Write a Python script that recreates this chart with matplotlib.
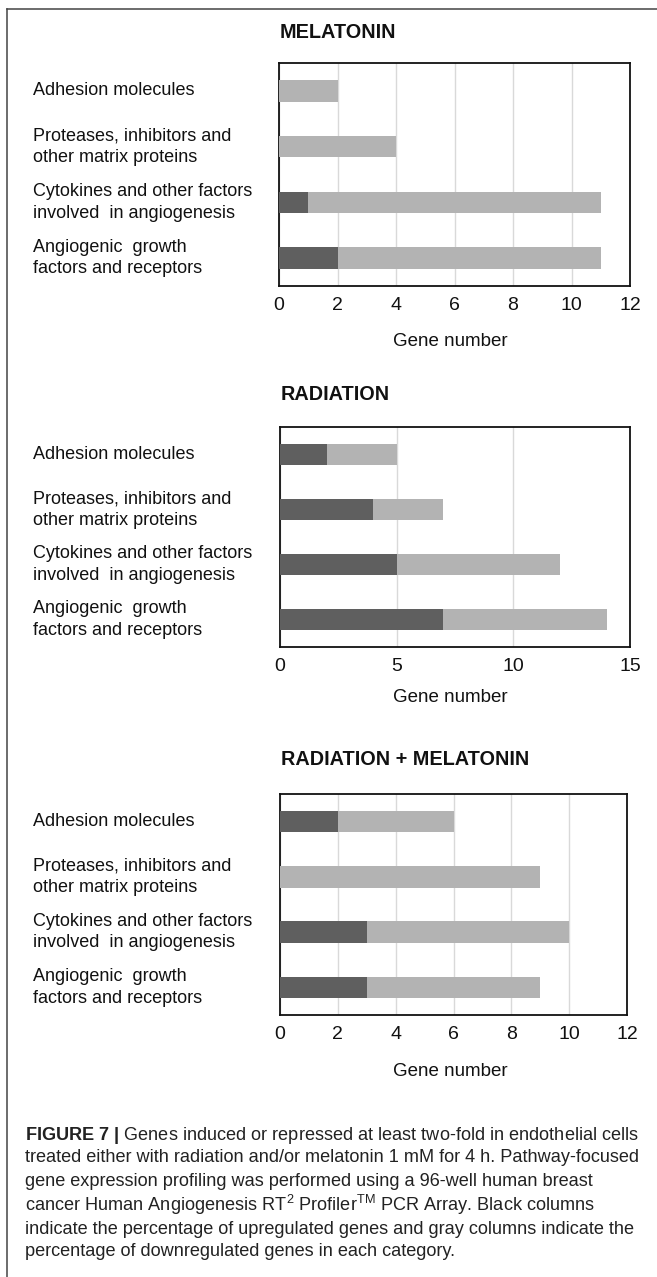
import matplotlib
matplotlib.use("Agg")
import matplotlib.pyplot as plt
from matplotlib.lines import Line2D
from matplotlib.transforms import blended_transform_factory

plt.rcParams['font.family'] = ['Liberation Sans', 'DejaVu Sans']
plt.rcParams['mathtext.fontset'] = 'custom'
plt.rcParams['mathtext.rm'] = 'Liberation Sans'
plt.rcParams['mathtext.bf'] = 'Liberation Sans:bold'
plt.rcParams['mathtext.it'] = 'Liberation Sans:italic'

# ---------------- data ----------------
categories = [
    "Adhesion molecules",
    "Proteases, inhibitors and\nother matrix proteins",
    "Cytokines and other factors\ninvolved  in angiogenesis",
    "Angiogenic  growth\nfactors and receptors",
]
panel_titles = ["MELATONIN", "RADIATION", "RADIATION + MELATONIN"]
# upregulated (dark) and downregulated (gray) gene numbers
melatonin_up = [0, 0, 1, 2]
melatonin_down = [2, 4, 10, 9]
radiation_up = [2, 4, 5, 7]
radiation_down = [3, 3, 7, 7]
combo_up = [2, 0, 3, 3]
combo_down = [4, 9, 7, 6]
x_maxes = [12, 15, 12]
x_steps = [2, 5, 2]
xlabel = "Gene number"

caption_lines = [
    r"$\mathbf{FIGURE\ 7\ |}$ Genes induced or repressed at least two-fold in endothelial cells",
    "treated either with radiation and/or melatonin 1 mM for 4 h. Pathway-focused",
    "gene expression profiling was performed using a 96-well human breast",
    r"cancer Human Angiogenesis RT$^{2}$ Profiler$^{\mathrm{TM}}$ PCR Array. Black columns",
    "indicate the percentage of upregulated genes and gray columns indicate the",
    "percentage of downregulated genes in each category.",
]

ups = [melatonin_up, radiation_up, combo_up]
downs = [melatonin_down, radiation_down, combo_down]

# ---------------- layout (pixels) ----------------
W, H = 657, 1277
DPI = 100
fig = plt.figure(figsize=(W / DPI, H / DPI), dpi=DPI)
fig.patch.set_facecolor("white")

def fx(px):
    return px / W

def fy(py):
    return 1 - py / H

# axes boxes: left, right, top, bottom in px
boxes = [(279, 630, 63, 286), (280, 630, 427, 647), (280, 627, 794, 1015)]
title_y = [33, 395, 760]
xlabel_y = [342, 698, 1072]

DARK = "#5f5f5f"
LIGHT = "#b3b3b3"
GRID = "#d9d9d9"
TXT = "#111111"

for i in range(3):
    l, r, t, b = boxes[i]
    ax = fig.add_axes([fx(l), fy(b), (r - l) / W, (b - t) / H])
    ypos = list(range(len(categories)))
    ax.barh(ypos, ups[i], height=0.39, color=DARK, zorder=3)
    ax.barh(ypos, downs[i], left=ups[i], height=0.39, color=LIGHT, zorder=3)
    ax.set_ylim(3.5, -0.5)
    ax.set_xlim(0, x_maxes[i])
    ax.set_xticks(range(0, x_maxes[i] + 1, x_steps[i]))
    ax.set_yticks([])
    ax.tick_params(axis='x', length=0, pad=8, labelsize=14, labelcolor=TXT)
    ax.grid(axis='x', color=GRID, lw=1.0, zorder=0)
    ax.set_axisbelow(True)
    for s in ax.spines.values():
        s.set_color("#111111")
        s.set_linewidth(1.3)
    # category labels
    tr = blended_transform_factory(fig.transFigure, ax.transData)
    for j, cat in enumerate(categories):
        ax.text(fx(33), j, cat, transform=tr, ha='left', va='center',
                fontsize=13, color=TXT, linespacing=1.35, clip_on=False)
    fig.text(fx(l + 1), fy(title_y[i]), panel_titles[i], ha='left', va='center',
             fontsize=14.3, fontweight='bold', color=TXT)
    fig.text(fx(450), fy(xlabel_y[i]), xlabel, ha='center', va='center',
             fontsize=13.5, color=TXT)

# caption
cap_y = [1135, 1158, 1182, 1205, 1229, 1252]
for y, line in zip(cap_y, caption_lines):
    fig.text(fx(25), fy(y), line, ha='left', va='center', fontsize=13.1, color="#222222")

# frame lines
fig.add_artist(Line2D([fx(7), fx(657)], [fy(9), fy(9)], color="#444444", lw=1.1))
fig.add_artist(Line2D([fx(7), fx(7)], [fy(9), fy(1277)], color="#444444", lw=1.1))

fig.savefig("out.png", dpi=DPI, facecolor="white")
